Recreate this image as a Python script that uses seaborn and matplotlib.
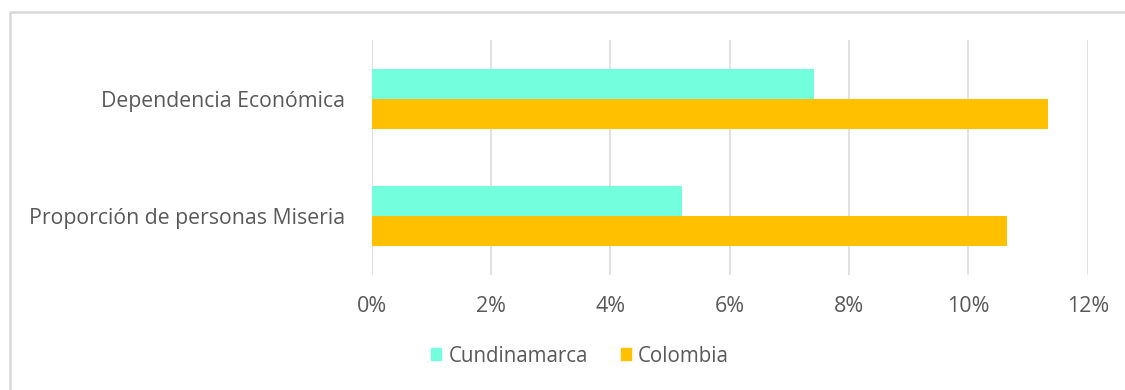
import matplotlib
matplotlib.use("Agg")
import matplotlib.pyplot as plt
from matplotlib.lines import Line2D
from matplotlib.ticker import PercentFormatter
import seaborn as sns
import pandas as pd

# Indicator values (percent of population)
categories = ["Dependencia Económica", "Proporción de personas Miseria"]
cundinamarca = [7.41, 5.20]
colombia = [11.33, 10.64]
regions = ["Cundinamarca", "Colombia"]
region_colors = ["#73FFDE", "#FFC000"]
x_ticks = [0, 2, 4, 6, 8, 10, 12]

df = pd.DataFrame({
    "indicador": categories * 2,
    "valor": cundinamarca + colombia,
    "region": [regions[0]] * len(categories) + [regions[1]] * len(categories),
})

sns.set_theme(style="white")
plt.rcParams["font.family"] = ["Open Sans", "DejaVu Sans"]
text_color = "#595959"
grid_color = "#D9D9D9"

fig = plt.figure(figsize=(11.25, 3.9), dpi=100)
ax = fig.add_axes([371.7 / 1125, 1 - 275 / 390, (1087.7 - 371.7) / 1125, (275 - 40) / 390])

sns.barplot(data=df, x="valor", y="indicador", hue="region", order=categories,
            hue_order=regions, palette=region_colors, orient="h", width=0.51,
            saturation=1, linewidth=0, ax=ax, legend=False)

ax.set_xlim(0, 12)
ax.set_xticks(x_ticks)
ax.xaxis.set_major_formatter(PercentFormatter(decimals=0))
ax.set_xlabel("")
ax.set_ylabel("")
ax.grid(axis="x", color=grid_color, linewidth=1.1)
ax.grid(axis="y", visible=False)
ax.set_axisbelow(True)
for s in ax.spines.values():
    s.set_visible(False)
ax.tick_params(axis="both", length=0, colors=text_color)
ax.tick_params(axis="x", pad=15, labelsize=15.5)
ax.tick_params(axis="y", pad=19, labelsize=15.3)

handles = [plt.Rectangle((0, 0), 1, 1, color=c) for c in region_colors]
fig.legend(handles, regions, loc="center", bbox_to_anchor=(580 / 1125, 1 - 356 / 390),
           ncol=2, frameon=False, fontsize=14.8, labelcolor=text_color,
           handlelength=0.5, handleheight=0.5, handletextpad=0.35, columnspacing=1.6)

# Chart frame (top and left edges)
fig.add_artist(Line2D([9.5 / 1125, 9.5 / 1125, 1.0], [0.0, 1 - 11.5 / 390, 1 - 11.5 / 390],
                      transform=fig.transFigure, color=grid_color, linewidth=1.8))

fig.savefig("out.png", dpi=100, facecolor="white")
